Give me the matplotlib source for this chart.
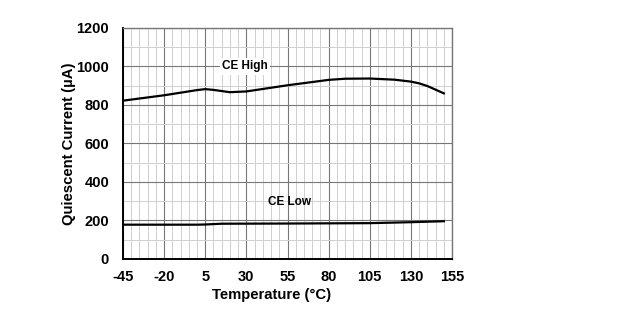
import matplotlib.pyplot as plt
from matplotlib.ticker import MultipleLocator

plt.rcParams['font.family'] = ['Liberation Sans', 'DejaVu Sans']
plt.rcParams['axes.unicode_minus'] = False

# quiescent current vs temperature
temp_high = [-45, -20, 0, 5, 10, 20, 30, 55, 80, 90, 105, 120, 130, 135, 140, 150]
ce_high = [822, 850, 877, 882, 878, 866, 870, 902, 930, 936, 937, 931, 921, 912, 898, 860]

temp_low = [-45, 0, 5, 15, 55, 105, 130, 150]
ce_low = [178, 178, 179, 183, 184, 186, 191, 196]

xticks = [-45, -20, 5, 30, 55, 80, 105, 130, 155]
yticks = [0, 200, 400, 600, 800, 1000, 1200]

fig = plt.figure(figsize=(6.21, 3.32), dpi=100)
ax = fig.add_axes([0.198, 0.22, 0.53, 0.696])

ax.plot(temp_high, ce_high, color='black', lw=1.6)
ax.plot(temp_low, ce_low, color='black', lw=1.6)

ax.set_xlim(-45, 155)
ax.set_ylim(0, 1200)
ax.set_xticks(xticks)
ax.set_yticks(yticks)
ax.xaxis.set_minor_locator(MultipleLocator(5))
ax.yaxis.set_minor_locator(MultipleLocator(100))
ax.grid(which='major', color='#777777', lw=0.8)
ax.grid(which='minor', color='#d0d0d0', lw=0.7)
ax.set_axisbelow(True)
ax.tick_params(which='both', length=0)
ax.tick_params(axis='x', pad=8)
ax.tick_params(axis='y', pad=10)
for lab in ax.get_xticklabels() + ax.get_yticklabels():
    lab.set_fontsize(10.5)
    lab.set_fontweight('bold')

for side in ['left', 'bottom']:
    ax.spines[side].set_color('black')
    ax.spines[side].set_linewidth(1.4)
for side in ['top', 'right']:
    ax.spines[side].set_color('#777777')
    ax.spines[side].set_linewidth(1.0)

ax.set_xlabel('Temperature (°C)', fontsize=10.7, fontweight='bold')
ax.set_ylabel('Quiescent Current (µA)', fontsize=10.7, fontweight='bold')
ax.xaxis.set_label_coords(0.453, -0.125)
ax.yaxis.set_label_coords(-0.142, 0.5)

ax.text(29, 1000, 'CE High', fontsize=8.5, fontweight='bold', ha='center', va='center',
        bbox=dict(facecolor='white', edgecolor='none', pad=1.5))
ax.text(56, 295, 'CE Low', fontsize=8.5, fontweight='bold', ha='center', va='center')

fig.savefig('out.png', dpi=100)
